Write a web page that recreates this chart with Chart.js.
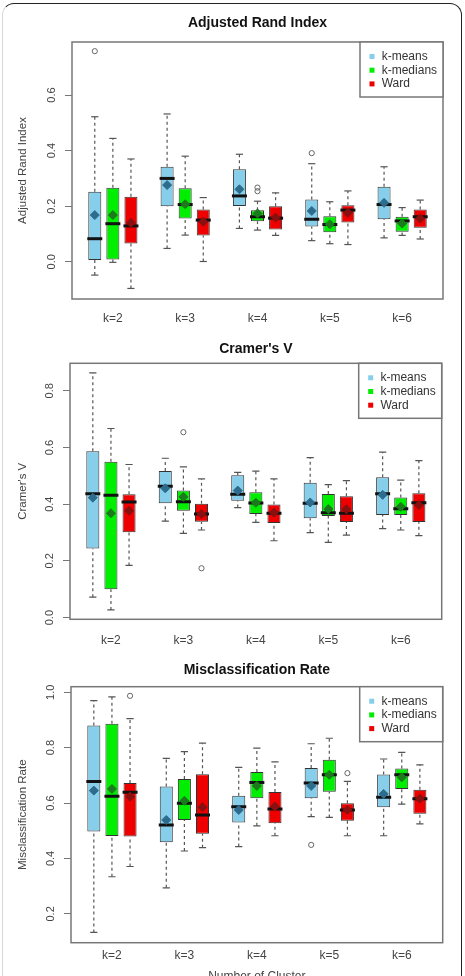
<!DOCTYPE html>
<html><head><meta charset="utf-8">
<script src="https://cdn.jsdelivr.net/npm/chart.js@4.4.0/dist/chart.umd.min.js"></script>
<style>
html,body{margin:0;padding:0;background:#fff;width:465px;height:976px;overflow:hidden;position:relative}
canvas{position:absolute;left:0}
#frame{position:absolute;left:2px;top:3px;width:458px;height:1010px;border:1.5px solid #222;border-left-color:#d8d8d8;border-radius:12px;pointer-events:none}
</style></head><body>
<canvas id="c1" width="465" height="328" style="top:0"></canvas>
<canvas id="c2" width="465" height="322" style="top:328px"></canvas>
<canvas id="c3" width="465" height="340" style="top:650px"></canvas>
<div id="frame"></div>
<script>
// ---- categories / series ----
const categories = ['k=2','k=3','k=4','k=5','k=6'];
const methods = ['k-means','k-medians','Ward'];

// ---- Adjusted Rand Index: [method][category] ----
const ariLow  = [[-0.048,0.048,0.120,0.076,0.086],[-0.002,0.096,0.114,0.065,0.095],[-0.096,0.001,0.095,0.062,0.082]];
const ariQ1   = [[0.006,0.200,0.201,0.127,0.153],[0.008,0.156,0.146,0.106,0.108],[0.066,0.095,0.116,0.141,0.122]];
const ariMed  = [[0.083,0.300,0.237,0.153,0.206],[0.137,0.206,0.162,0.134,0.147],[0.129,0.150,0.157,0.186,0.162]];
const ariQ3   = [[0.252,0.342,0.333,0.224,0.270],[0.266,0.265,0.185,0.164,0.162],[0.234,0.188,0.200,0.203,0.188]];
const ariHigh = [[0.522,0.532,0.387,0.353,0.342],[0.444,0.380,0.218,0.216,0.195],[0.370,0.231,0.248,0.255,0.222]];
const ariMean = [[0.168,0.276,0.261,0.183,0.212],[0.168,0.207,0.174,0.135,0.138],[0.140,0.144,0.159,0.176,0.156]];
const ariOut  = [[0,0,0.758],[0,3,0.391],[1,2,0.267],[1,2,0.254]]; // [method, category, value]
const ariTicks = [0.0,0.2,0.4,0.6];

// ---- Cramer's V ----
const crLow  = [[0.072,0.340,0.388,0.300,0.314],[0.027,0.297,0.336,0.265,0.309],[0.184,0.309,0.271,0.291,0.289]];
const crQ1   = [[0.244,0.403,0.412,0.350,0.362],[0.100,0.377,0.365,0.358,0.362],[0.301,0.338,0.334,0.337,0.337]];
const crMed  = [[0.437,0.463,0.435,0.403,0.437],[0.432,0.409,0.404,0.370,0.384],[0.408,0.365,0.368,0.368,0.405]];
const crQ3   = [[0.587,0.517,0.502,0.476,0.495],[0.550,0.448,0.442,0.436,0.424],[0.435,0.402,0.399,0.428,0.439]];
const crHigh = [[0.863,0.562,0.512,0.564,0.584],[0.667,0.532,0.517,0.469,0.485],[0.540,0.489,0.489,0.483,0.554]];
const crMean = [[0.423,0.456,0.448,0.406,0.433],[0.368,0.426,0.405,0.383,0.391],[0.377,0.365,0.370,0.382,0.397]];
const crOut  = [[1,1,0.654],[2,1,0.174]];
const crTicks = [0.0,0.2,0.4,0.6,0.8];

// ---- Misclassification Rate ----
const mrLow  = [[0.133,0.294,0.443,0.551,0.482],[0.334,0.427,0.518,0.548,0.596],[0.371,0.439,0.482,0.482,0.525]];
const mrQ1   = [[0.497,0.459,0.530,0.617,0.585],[0.481,0.539,0.617,0.641,0.651],[0.479,0.489,0.527,0.536,0.561]];
const mrMed  = [[0.678,0.521,0.587,0.672,0.621],[0.625,0.599,0.674,0.702,0.702],[0.639,0.557,0.579,0.575,0.616]];
const mrQ3   = [[0.880,0.660,0.626,0.727,0.703],[0.886,0.687,0.712,0.756,0.725],[0.672,0.704,0.640,0.599,0.648]];
const mrHigh = [[0.970,0.761,0.729,0.814,0.759],[0.983,0.786,0.798,0.834,0.783],[0.905,0.816,0.749,0.678,0.738]];
const mrMean = [[0.645,0.539,0.575,0.662,0.633],[0.651,0.608,0.662,0.702,0.693],[0.623,0.585,0.587,0.575,0.616]];
const mrOut  = [[2,0,0.987],[0,3,0.449],[2,3,0.708]];
const mrTicks = [0.2,0.4,0.6,0.8,1.0];

// ---- styling ----
const FONT = '"Liberation Sans", Arial, Helvetica, sans-serif';
Chart.defaults.font.family = FONT;
const methodColors = ['#87ceeb','#00ee00','#ee0000'];
const meanColors = ['#2d6c8c','#1b7a1b','#8a1010'];
const pos = (ci, mi) => ci * 4 + mi + 1;

function buildDatasets(low, q1, med, q3, high, mean, outs) {
  const ds = [];
  methods.forEach((m, mi) => {
    ds.push({type:'bar', label:m,
      data: categories.map((c, ci) => ({x: pos(ci, mi), y: [q1[mi][ci], q3[mi][ci]]})),
      backgroundColor: methodColors[mi], borderColor:'#333', borderWidth:1,
      borderSkipped:false, maxBarThickness:14, grouped:false, order:2});
  });
  methods.forEach((m, mi) => {
    const pts = [];
    categories.forEach((c, ci) => {
      const x = pos(ci, mi);
      pts.push({x, y: low[mi][ci]}, {x, y: q1[mi][ci]}, {x, y: null},
               {x, y: q3[mi][ci]}, {x, y: high[mi][ci]}, {x, y: null});
    });
    ds.push({type:'line', data: pts, borderColor:'#555', borderWidth:1.2, borderDash:[3,3],
      pointRadius:0, spanGaps:false, fill:false, order:3});
    ds.push({type:'scatter',
      data: categories.flatMap((c, ci) => [{x: pos(ci, mi), y: low[mi][ci]}, {x: pos(ci, mi), y: high[mi][ci]}]),
      pointStyle:'line', pointRadius:3.6, borderColor:'#555', pointBorderColor:'#555', pointBorderWidth:1.2, order:3});
    ds.push({type:'scatter',
      data: categories.map((c, ci) => ({x: pos(ci, mi), y: med[mi][ci]})),
      pointStyle:'line', pointRadius:7.5, borderColor:'#111', pointBorderColor:'#111', pointBorderWidth:3, order:1});
    ds.push({type:'scatter',
      data: categories.map((c, ci) => ({x: pos(ci, mi), y: mean[mi][ci]})),
      pointStyle:'rectRot', pointRadius:4.5, borderColor:meanColors[mi], pointBorderColor:meanColors[mi],
      pointBackgroundColor:meanColors[mi], pointBorderWidth:1, order:0});
  });
  ds.push({type:'scatter', data: outs.map(o => ({x: pos(o[1], o[0]), y: o[2]})),
    pointStyle:'circle', pointRadius:2.6, borderColor:'#666', pointBorderColor:'#666',
    pointBackgroundColor:'rgba(0,0,0,0)', pointBorderWidth:1, order:0});
  return ds;
}

const framePlugin = {
  id:'rframe',
  afterDatasetsDraw(chart) {
    const {ctx, chartArea:a} = chart;
    ctx.save();
    ctx.strokeStyle = '#777'; ctx.lineWidth = 1.5;
    ctx.strokeRect(a.left, a.top, a.right - a.left, a.bottom - a.top);
    const w = 83, h = 55, lx = a.right - w, ly = a.top;
    ctx.fillStyle = '#fff'; ctx.fillRect(lx, ly, w, h);
    ctx.strokeRect(lx, ly, w, h);
    ctx.font = '12px ' + FONT; ctx.textBaseline = 'middle'; ctx.textAlign = 'left';
    methods.forEach((m, i) => {
      const y = ly + 14.5 + i * 13.7;
      ctx.fillStyle = methodColors[i]; ctx.fillRect(lx + 9.5, y - 2.5, 5, 5);
      ctx.fillStyle = '#333'; ctx.fillText(m, lx + 21.7, y);
    });
    ctx.restore();
  }
};

function makePanel(id, title, yTitle, yTicks, yMin, yMax, datasets, g) {
  new Chart(document.getElementById(id), {
    type:'bar',
    data:{datasets},
    plugins:[framePlugin],
    options:{
      responsive:false, animation:false, events:[],
      layout:{padding:{left:0, right:g.right, top:0, bottom:0}},
      plugins:{
        legend:{display:false}, tooltip:{enabled:false},
        title:{display:true, text:title, fullSize:false, color:'#111',
               font:{size:14, weight:'bold', family:FONT}, padding:{top:g.tTop, bottom:g.tBot}}
      },
      scales:{
        x:{type:'linear', min:-0.26, max:20.26, offset:false,
           grid:{display:false, drawTicks:false}, border:{display:false},
           afterBuildTicks: s => { s.ticks = categories.map((c, ci) => ({value: pos(ci, 1)})); },
           ticks:{callback:(v, i) => categories[i], autoSkip:false, minRotation:0, maxRotation:0,
                  color:'#444', font:{size:12}, padding:g.xPad},
           title: g.xTitle ? {display:true, text:g.xTitle, color:'#444', font:{size:12}, padding:{top:0, bottom:g.xTitlePad}} : {display:false},
           afterFit: s => { s.height = g.xH; }},
        y:{type:'linear', min:yMin, max:yMax,
           afterBuildTicks: s => { s.ticks = yTicks.map(v => ({value:v})); },
           ticks:{callback: v => Number(v).toFixed(1), minRotation:90, maxRotation:90, crossAlign:'center',
                  padding:5, color:'#444', font:{size:11}},
           grid:{drawOnChartArea:false, drawTicks:true, tickLength:7, color:'#777', lineWidth:1},
           border:{display:false},
           title:{display:true, text:yTitle, color:'#444', font:{size:11.5}, padding:{top:16.4, bottom:0}},
           afterFit: s => { s.width = g.left; }}
      }
    }
  });
}

makePanel('c1', 'Adjusted Rand Index', 'Adjusted Rand Index', ariTicks, -0.134, 0.791,
  buildDatasets(ariLow, ariQ1, ariMed, ariQ3, ariHigh, ariMean, ariOut),
  {left:72, right:22, tTop:14.6, tBot:10.6, xH:29, xPad:12.8});
makePanel('c2', "Cramer's V", "Cramer's V", crTicks, -0.006, 0.897,
  buildDatasets(crLow, crQ1, crMed, crQ3, crHigh, crMean, crOut),
  {left:70, right:23.3, tTop:12.9, tBot:5.6, xH:30.7, xPad:14.5});
makePanel('c3', 'Misclassification Rate', 'Misclassification Rate', mrTicks, 0.096, 1.020,
  buildDatasets(mrLow, mrQ1, mrMed, mrQ3, mrHigh, mrMean, mrOut),
  {left:71, right:22.3, tTop:11.6, tBot:8.3, xH:47.3, xPad:6.1, xTitle:'Number of Cluster', xTitlePad:5.8});
</script>
</body></html>
